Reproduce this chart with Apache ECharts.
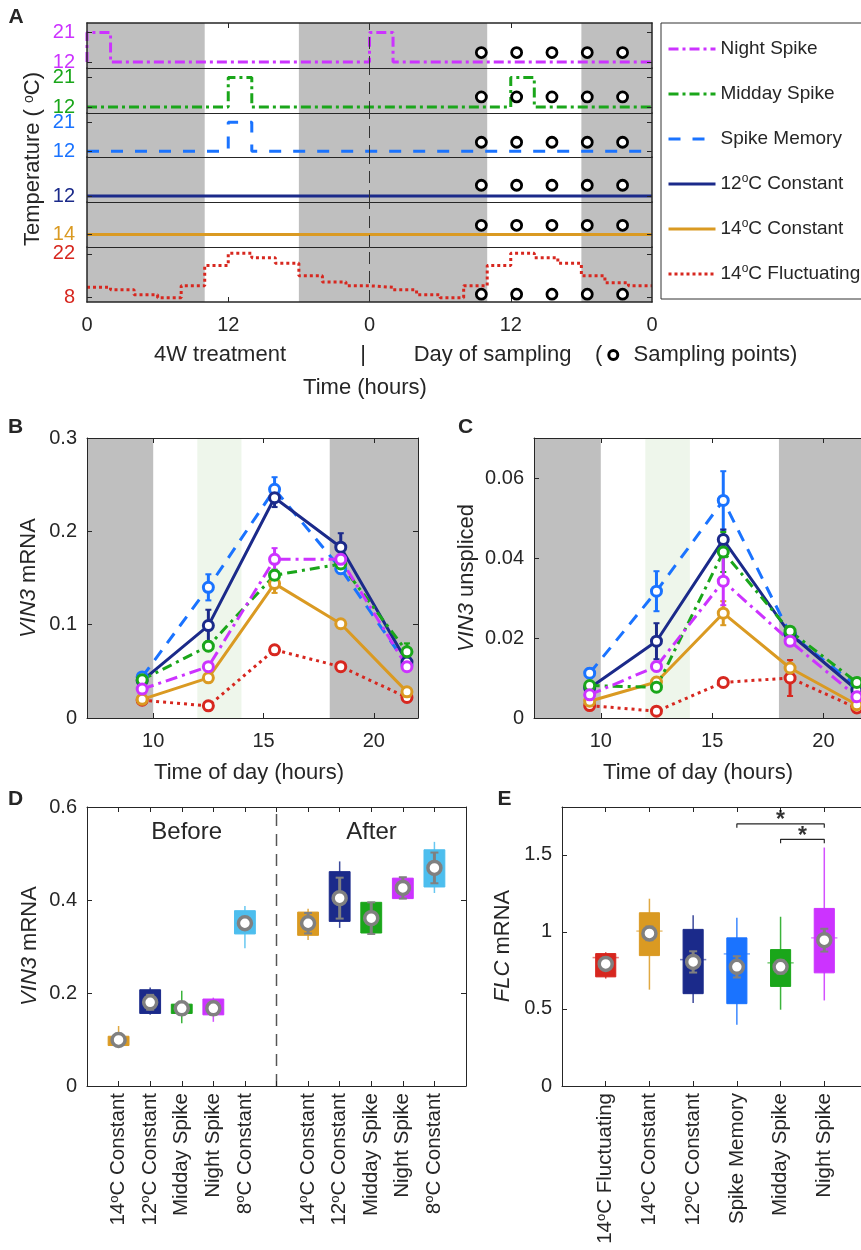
<!DOCTYPE html>
<html><head><meta charset="utf-8">
<script src="https://cdn.jsdelivr.net/npm/echarts@6.0.0/dist/echarts.min.js"></script>
<style>html,body{margin:0;padding:0;background:#fff}#c{width:861px;height:1250px}</style>
</head><body><div id="c"></div>
<script>
// ================= DATA =================
// Panel A: temperature regimes (hours over 2 days, degC)
const seriesNames = ['Night Spike','Midday Spike','Spike Memory','12°C Constant','14°C Constant','14°C Fluctuating'];
const nightSpikeTemp   = [[0,12],[0,21],[2,12],[24,21],[26,12],[48,12]];
const middaySpikeTemp  = [[0,12],[12,21],[14,12],[36,21],[38,12],[48,12]];
const spikeMemoryTemp  = [[0,12],[12,21],[14,12],[48,12]];
const constant12Temp   = [[0,12],[48,12]];
const constant14Temp   = [[0,14],[48,14]];
const fluctuatingHours = [0,2,4,6,8,10,12,14,16,18,20,22,24,26,28,30,32,34,36,38,40,42,44,46,48];
const fluctuatingTemp  = [11.3,10.5,8.9,8.0,11.8,18.3,22.2,20.8,19.0,15.0,13.0,11.8,
                          11.3,10.5,8.9,8.0,11.8,18.3,22.2,20.8,19.0,15.0,12.8,11.8,11.8];
const rowTickLabels    = [[12,21],[12,21],[12,21],[12],[14],[8,22]];
const samplingHoursA   = [33.5,36.5,39.5,42.5,45.5];
const samplingLevelA   = [14.9,15.1,14.8,15.3,16.8,9.1];
const nightBandsA      = [[0,10],[18,34],[42,48]];
const dayBoundaryA     = 24;
const timeTicksA       = [0,12,24,36,48];

// Panels B / C
const timeOfDay  = [9.5,12.5,15.5,18.5,21.5];
const timeTicksB = [10,15,20];
const nightBandsB = [[7,10],[18,22]];
const spikeBandB  = [12,14];
const vin3Ticks   = [0,0.1,0.2,0.3];
const unsTicks    = [0,0.02,0.04,0.06];

const vin3Night = [0.031,0.055,0.170,0.170,0.055];
const vin3Mid   = [0.041,0.077,0.153,0.165,0.071];
const vin3Mem   = [0.044,0.140,0.245,0.160,0.057];
const vin3C12   = [0.040,0.099,0.236,0.183,0.060];
const vin3C14   = [0.020,0.043,0.144,0.101,0.028];
const vin3Fluc  = [0.019,0.013,0.073,0.055,0.022];
const vin3NightErr = [0.003,0.004,0.012,0.005,0.004];
const vin3MidErr   = [0.003,0.005,0.006,0.004,0.009];
const vin3MemErr   = [0.003,0.014,0.013,0.005,0.004];
const vin3C12Err   = [0.003,0.017,0.010,0.015,0.004];
const vin3C14Err   = [0.002,0.003,0.010,0.003,0.003];
const vin3FlucErr  = [0.002,0.002,0.003,0.003,0.003];

const unsNight = [0.0058,0.0129,0.0342,0.0192,0.0053];
const unsMid   = [0.0081,0.0077,0.0415,0.0217,0.0089];
const unsMem   = [0.0112,0.0317,0.0544,0.0210,0.0080];
const unsC12   = [0.0075,0.0192,0.0446,0.0210,0.0070];
const unsC14   = [0.0042,0.0090,0.0262,0.0125,0.0033];
const unsFluc  = [0.0031,0.0017,0.0089,0.0100,0.0025];
const unsNightErr = [0.0008,0.0012,0.0060,0.0012,0.0008];
const unsMidErr   = [0.0008,0.0008,0.0050,0.0010,0.0010];
const unsMemErr   = [0.0012,0.0050,0.0073,0.0012,0.0008];
const unsC12Err   = [0.0008,0.0045,0.0025,0.0010,0.0008];
const unsC14Err   = [0.0006,0.0010,0.0030,0.0010,0.0006];
const unsFlucErr  = [0.0006,0.0005,0.0008,0.0045,0.0006];

// Panel D: VIN3 before / after
const dNames = ['14°C Constant','12°C Constant','Midday Spike','Night Spike','8°C Constant',
                '14°C Constant','12°C Constant','Midday Spike','Night Spike','8°C Constant'];
const dPos   = [1,2,3,4,5,7,8,9,10,11];
const dividerD = 6;
const dQ1   = [0.087,0.156,0.156,0.153,0.327,0.324,0.354,0.329,0.403,0.428];
const dQ3   = [0.107,0.207,0.176,0.187,0.377,0.374,0.461,0.395,0.447,0.508];
const dWLo  = [0.087,0.153,0.135,0.138,0.296,0.314,0.340,0.329,0.403,0.415];
const dWHi  = [0.129,0.212,0.205,0.190,0.387,0.381,0.483,0.395,0.447,0.525];
const dMean = [0.099,0.180,0.167,0.167,0.350,0.350,0.404,0.361,0.426,0.469];
const dErr  = [0.008,0.016,0.013,0.013,0.012,0.022,0.044,0.034,0.023,0.033];
const dTicksY = [0,0.2,0.4,0.6];

// Panel E: FLC
const eNames = ['14°C Fluctuating','14°C Constant','12°C Constant','Spike Memory','Midday Spike','Night Spike'];
const ePos   = [1,2,3,4,5,6];
const eQ1   = [0.708,0.846,0.599,0.534,0.646,0.734];
const eQ3   = [0.859,1.124,1.016,0.961,0.885,1.152];
const eWLo  = [0.697,0.625,0.538,0.397,0.495,0.555];
const eWHi  = [0.868,1.215,1.107,1.092,1.098,1.547];
const eMed  = [0.833,1.005,0.820,0.857,0.799,0.961];
const eMean = [0.792,0.990,0.805,0.773,0.773,0.946];
const eErr  = [0.028,0.044,0.069,0.069,0.043,0.074];
const eTicksY = [0,0.5,1,1.5];
const bracketFrom  = [4,5];
const bracketTo    = [6,6];
const bracketLevel = [1.70,1.60];

// ================= STYLE =================
const FONT = '"Liberation Sans", Arial, Helvetica, sans-serif';
const TXT = '#262626';
const COL = {night:'#CC33FF', mid:'#1AA61A', mem:'#1A73FF', c12:'#1B2A8A', c14:'#DA9A22', fluc:'#D7271F', c8:'#4DBEEE'};
const colorByName = {'Night Spike':COL.night,'Midday Spike':COL.mid,'Spike Memory':COL.mem,
  '12°C Constant':COL.c12,'14°C Constant':COL.c14,'14°C Fluctuating':COL.fluc,'8°C Constant':COL.c8};
const rowColors = seriesNames.map(n => colorByName[n]);
const aDash = [[10,4,3,4],[10,4,3,4],[12,12],'solid','solid',[3,3]];
const richFor = (size) => ({
  s: {fontSize: Math.round(size*0.62), lineHeight: Math.round(size*0.62), verticalAlign:'top', fontFamily:FONT},
  i: {fontStyle:'italic', fontSize:size, fontFamily:FONT}
});
const supFmt = (s) => s.replace('°', '{s|o}');
const numFmt = (v) => String(+Number(v).toFixed(3));

// ================= GRIDS =================
const GB = {containLabel:false, outerBoundsMode:'none'};
const rowTops = [23,68,113,157,202,247], rowHeights = [45,45,44,45,45,55];
const rowYMin = [10.2,10.2,10.2,10.2,10.2,6.6], rowYMax = [23.9,23.9,23.9,23.9,23.9,24.2];
const grids = rowTops.map((t,i)=>Object.assign({left:87, top:t, width:565, height:rowHeights[i]}, GB));
grids.push(Object.assign({left:87,  top:438, width:331, height:280}, GB)); // 6 B
grids.push(Object.assign({left:534, top:438, width:334, height:280}, GB)); // 7 C
grids.push(Object.assign({left:87,  top:807, width:379, height:279}, GB)); // 8 D
grids.push(Object.assign({left:562, top:807, width:306, height:279}, GB)); // 9 E

const LINE = (w) => ({show:true, onZero:false, lineStyle:{color:TXT, width:w}});
const TICK = (vals) => ({show:true, inside:true, length:5, lineStyle:{color:TXT, width:1}, customValues: vals});
const LABEL = (vals, extra) => Object.assign({show:true, customValues: vals, color:TXT, fontSize:20, fontFamily:FONT, formatter: numFmt}, extra||{});
function ax(o){ return Object.assign({type:'value', z:4, splitLine:{show:false}, axisLine:LINE(1), axisTick:{show:false}, axisLabel:{show:false}}, o); }

const xAxes = [];
for (let r=0;r<6;r++) xAxes.push(ax({gridIndex:r, min:0, max:48, position:'bottom',
  axisLine: LINE(r===5?1.5:1),
  axisTick: r===5 ? TICK([12,24,36]) : {show:false},
  axisLabel: r===5 ? LABEL(timeTicksA, {margin:13, formatter: v => String(v % 24)}) : {show:false}}));
xAxes.push(ax({gridIndex:0, min:0, max:48, position:'top', axisLine:LINE(1.5), axisTick:TICK([12,24,36])})); // 6
xAxes.push(ax({gridIndex:6, min:7, max:22, position:'bottom', axisTick:TICK(timeTicksB), axisLabel:LABEL(timeTicksB,{margin:13})})); // 7
xAxes.push(ax({gridIndex:6, min:7, max:22, position:'top', axisTick:TICK(timeTicksB)})); // 8
xAxes.push(ax({gridIndex:7, min:7, max:22, position:'bottom', axisTick:TICK(timeTicksB), axisLabel:LABEL(timeTicksB,{margin:13})})); // 9
xAxes.push(ax({gridIndex:7, min:7, max:22, position:'top', axisTick:TICK(timeTicksB)})); // 10
const dTickPos = dPos.concat([dividerD]);
xAxes.push(ax({gridIndex:8, min:0, max:12, position:'bottom', axisTick:TICK(dTickPos),
  axisLabel:LABEL(dPos,{rotate:90, margin:7, fontSize:20.5, lineHeight:22, rich:richFor(20.5),
    formatter: v => supFmt(dNames[dPos.indexOf(v)])})})); // 11
xAxes.push(ax({gridIndex:8, min:0, max:12, position:'top', axisTick:TICK(dTickPos)})); // 12
xAxes.push(ax({gridIndex:9, min:0, max:7, position:'bottom', axisTick:TICK(ePos),
  axisLabel:LABEL(ePos,{rotate:90, margin:7, fontSize:20.5, lineHeight:22, rich:richFor(20.5),
    formatter: v => supFmt(eNames[ePos.indexOf(v)])})})); // 13
xAxes.push(ax({gridIndex:9, min:0, max:7, position:'top', axisTick:TICK(ePos)})); // 14

const yAxes = [];
for (let r=0;r<6;r++) yAxes.push(ax({gridIndex:r, min:rowYMin[r], max:rowYMax[r], position:'left', axisLine:LINE(1.5),
  axisTick:TICK(rowTickLabels[r]), axisLabel:LABEL(rowTickLabels[r], {color:rowColors[r], fontSize:20, margin:12})}));
for (let r=0;r<6;r++) yAxes.push(ax({gridIndex:r, min:rowYMin[r], max:rowYMax[r], position:'right', axisLine:LINE(1.5),
  axisTick:TICK(rowTickLabels[r])}));
yAxes.push(ax({gridIndex:6, min:0, max:0.3, position:'left', axisTick:TICK(vin3Ticks), axisLabel:LABEL(vin3Ticks,{margin:10})})); // 12
yAxes.push(ax({gridIndex:6, min:0, max:0.3, position:'right', axisTick:TICK(vin3Ticks)})); // 13
yAxes.push(ax({gridIndex:7, min:0, max:0.07, position:'left', axisTick:TICK(unsTicks), axisLabel:LABEL(unsTicks,{margin:10})})); // 14
yAxes.push(ax({gridIndex:7, min:0, max:0.07, position:'right', axisTick:TICK(unsTicks)})); // 15
yAxes.push(ax({gridIndex:8, min:0, max:0.6, position:'left', axisTick:TICK(dTicksY), axisLabel:LABEL(dTicksY,{margin:10})})); // 16
yAxes.push(ax({gridIndex:8, min:0, max:0.6, position:'right', axisTick:TICK(dTicksY)})); // 17
yAxes.push(ax({gridIndex:9, min:0, max:1.81, position:'left', axisTick:TICK(eTicksY), axisLabel:LABEL(eTicksY,{margin:10})})); // 18
yAxes.push(ax({gridIndex:9, min:0, max:1.81, position:'right', axisTick:TICK(eTicksY)})); // 19

// ================= SERIES =================
const series = [];
const rowData = [nightSpikeTemp, middaySpikeTemp, spikeMemoryTemp, constant12Temp, constant14Temp,
                 fluctuatingHours.map((h,i)=>[h, fluctuatingTemp[i]])];
for (let r=0;r<6;r++) {
  series.push({type:'line', name:seriesNames[r], xAxisIndex:r, yAxisIndex:r, data:rowData[r], step:'end',
    symbol:'none', showSymbol:false, silent:true, z:2,
    lineStyle:{color:rowColors[r], width:3, type:aDash[r]}, itemStyle:{color:rowColors[r]},
    markArea:{silent:true, itemStyle:{color:'#BFBFBF'}, data: nightBandsA.map(b=>[{xAxis:b[0]},{xAxis:b[1]}])},
    markLine:{silent:true, symbol:['none','none'], label:{show:false}, lineStyle:{color:'#333', width:1, type:[12,7]},
      data:[{xAxis:dayBoundaryA}]}
  });
}
for (let r=0;r<6;r++) {
  series.push({type:'scatter', xAxisIndex:r, yAxisIndex:r, silent:true, z:5,
    data: samplingHoursA.map(h=>[h, samplingLevelA[r]]), symbol:'circle', symbolSize:10,
    itemStyle:{color:'#fff', borderColor:'#000', borderWidth:2.8, opacity:1}});
}

const bcDefs = [
  {name:'14°C Fluctuating', dash:[3,4],       b:vin3Fluc,  be:vin3FlucErr,  c:unsFluc,  ce:unsFlucErr},
  {name:'14°C Constant',    dash:'solid',     b:vin3C14,   be:vin3C14Err,   c:unsC14,   ce:unsC14Err},
  {name:'Spike Memory',     dash:[12,9],      b:vin3Mem,   be:vin3MemErr,   c:unsMem,   ce:unsMemErr},
  {name:'12°C Constant',    dash:'solid',     b:vin3C12,   be:vin3C12Err,   c:unsC12,   ce:unsC12Err},
  {name:'Midday Spike',     dash:[10,5,3,5],  b:vin3Mid,   be:vin3MidErr,   c:unsMid,   ce:unsMidErr},
  {name:'Night Spike',      dash:[12,5,3,5],  b:vin3Night, be:vin3NightErr, c:unsNight, ce:unsNightErr}
];
function errSeries(xi, yi, xs, ys, es, color){
  return {type:'custom', xAxisIndex:xi, yAxisIndex:yi, silent:true, z:3, encode:{x:0,y:1},
    data: xs.map((x,i)=>[x, ys[i], es[i]]),
    renderItem:(p, api)=>{
      const x=api.value(0), y=api.value(1), e=api.value(2);
      const a=api.coord([x,y+e]), b=api.coord([x,y-e]); const cw=3;
      return {type:'group', children:[
        {type:'line', shape:{x1:a[0],y1:a[1],x2:b[0],y2:b[1]}, style:{stroke:color, lineWidth:3}},
        {type:'line', shape:{x1:a[0]-cw,y1:a[1],x2:a[0]+cw,y2:a[1]}, style:{stroke:color, lineWidth:2}},
        {type:'line', shape:{x1:b[0]-cw,y1:b[1],x2:b[0]+cw,y2:b[1]}, style:{stroke:color, lineWidth:2}}
      ]};
    }};
}
function addLinePanel(xi, yi, key, errKey){
  bcDefs.forEach((s,k)=>{
    const color = colorByName[s.name];
    series.push(errSeries(xi, yi, timeOfDay, s[key], s[errKey], color));
    const ser = {type:'line', name:s.name, xAxisIndex:xi, yAxisIndex:yi, silent:true, z:4,
      data: timeOfDay.map((t,i)=>[t, s[key][i]]), symbol:'circle', symbolSize:10, showSymbol:true,
      lineStyle:{color, width:3, type:s.dash}, itemStyle:{color:'#fff', borderColor:color, borderWidth:3}};
    if (k===0) {
      ser.markArea = {silent:true, itemStyle:{color:'#BFBFBF'},
        data: nightBandsB.map(b=>[{xAxis:b[0]},{xAxis:b[1]}])
          .concat([[{xAxis:spikeBandB[0], itemStyle:{color:'#EEF6EB'}},{xAxis:spikeBandB[1]}]])};
    }
    series.push(ser);
  });
}
addLinePanel(7, 12, 'b', 'be');
addLinePanel(9, 14, 'c', 'ce');

function boxSeries(xi, yi, pos, names, q1, q3, wlo, whi, med, mean, err, bw, mw){
  return {type:'custom', xAxisIndex:xi, yAxisIndex:yi, silent:true, z:4, encode:{x:0,y:2},
    data: pos.map((p,i)=>[p, i, q1[i]]),
    renderItem:(params, api)=>{
      const x = api.value(0), i = api.value(1);
      const col = colorByName[names[i]];
      const L = api.coord([x-bw/2, q3[i]]), R = api.coord([x+bw/2, q1[i]]);
      const wt = api.coord([x, whi[i]]), wb = api.coord([x, wlo[i]]);
      const m = api.coord([x, mean[i]]);
      const et = api.coord([x, mean[i]+err[i]]), eb = api.coord([x, mean[i]-err[i]]);
      const ch = [
        {type:'line', shape:{x1:wt[0],y1:wt[1],x2:wb[0],y2:wb[1]}, style:{stroke:col, lineWidth:1.5, opacity:0.85}},
        {type:'rect', shape:{x:L[0], y:L[1], width:R[0]-L[0], height:R[1]-L[1]}, style:{fill:col, stroke:col, lineWidth:1}}
      ];
      if (med) {
        const ml = api.coord([x-mw/2, med[i]]), mr = api.coord([x+mw/2, med[i]]);
        ch.push({type:'line', shape:{x1:ml[0],y1:ml[1],x2:mr[0],y2:mr[1]}, style:{stroke:col, lineWidth:1.5, opacity:0.6}});
      }
      const cw = 4;
      ch.push({type:'line', shape:{x1:et[0],y1:et[1],x2:eb[0],y2:eb[1]}, style:{stroke:'#808080', lineWidth:3}});
      ch.push({type:'line', shape:{x1:et[0]-cw,y1:et[1],x2:et[0]+cw,y2:et[1]}, style:{stroke:'#808080', lineWidth:2}});
      ch.push({type:'line', shape:{x1:eb[0]-cw,y1:eb[1],x2:eb[0]+cw,y2:eb[1]}, style:{stroke:'#808080', lineWidth:2}});
      ch.push({type:'circle', shape:{cx:m[0], cy:m[1], r:6.5}, style:{fill:'#fff', stroke:'#808080', lineWidth:3.5}});
      return {type:'group', children:ch};
    }};
}
series.push(boxSeries(11, 16, dPos, dNames, dQ1, dQ3, dWLo, dWHi, null, dMean, dErr, 0.66, 0.8));
series.push({type:'line', xAxisIndex:11, yAxisIndex:16, silent:true, z:3, symbol:'none',
  data:[[dividerD,0],[dividerD,0.6]], lineStyle:{color:'#555', width:1.5, type:[12,8]}});

series.push(boxSeries(13, 18, ePos, eNames, eQ1, eQ3, eWLo, eWHi, eMed, eMean, eErr, 0.46, 0.6));
const drop = 0.025;
bracketFrom.forEach((f,i)=>{
  const t = bracketTo[i], lv = bracketLevel[i];
  series.push({type:'line', xAxisIndex:13, yAxisIndex:18, silent:true, z:5, symbol:'none',
    data:[[f,lv-drop],[f,lv],[t,lv],[t,lv-drop]], lineStyle:{color:TXT, width:1.2}});
});
series.push({type:'scatter', xAxisIndex:13, yAxisIndex:18, silent:true, z:5, symbolSize:1,
  itemStyle:{color:'rgba(0,0,0,0)'},
  data: bracketFrom.map((f,i)=>[(f+bracketTo[i])/2, bracketLevel[i]]),
  label:{show:true, position:'inside', offset:[0,-3], formatter:'*', fontSize:23, fontWeight:'bold', color:'#000', fontFamily:FONT}});

// ================= TEXT =================
const T = (text, x, y, o={}) => ({type:'text', x, y, rotation:o.rot||0, silent:true, z:10,
  style:{text, fontFamily:FONT, fontSize:o.size||22, fontWeight:o.bold?'bold':'normal', fill:TXT,
    align:o.align||'center', verticalAlign:'middle', textAlign:o.align||'center', textVerticalAlign:'middle',
    rich:o.rich}});
const R90 = Math.PI/2;
const graphics = [
  T('A', 16, 17, {size:21, bold:true}),
  T('B', 15.5, 427.5, {size:21, bold:true}),
  T('C', 465.5, 427.5, {size:21, bold:true}),
  T('D', 15.5, 799.5, {size:21, bold:true}),
  T('E', 504.5, 799.5, {size:21, bold:true}),
  T('Temperature ( {s|o}C)', 32.7, 159, {rot:R90, rich:richFor(22)}),
  T('4W treatment', 220, 355),
  T('|', 363, 355),
  T('Day of sampling', 492.5, 355),
  T('(', 595, 355, {align:'left'}),
  {type:'circle', silent:true, z:10, shape:{cx:613.3, cy:355, r:4.5}, style:{fill:'#fff', stroke:'#000', lineWidth:3}},
  T('Sampling points)', 633.5, 355, {align:'left'}),
  T('Time (hours)', 365, 388),
  T('{i|VIN3} mRNA', 28.5, 578, {rot:R90, rich:richFor(22)}),
  T('Time of day (hours)', 249, 773),
  T('{i|VIN3} unspliced', 466.5, 578, {rot:R90, rich:richFor(22)}),
  T('Time of day (hours)', 698, 773),
  T('{i|VIN3} mRNA', 29.5, 946, {rot:R90, rich:richFor(22)}),
  T('Before', 186.7, 832.7, {size:24}),
  T('After', 371.5, 832.7, {size:24}),
  T('{i|FLC} mRNA', 502.5, 946, {rot:R90, rich:richFor(22)})
];

const option = {
  animation:false,
  backgroundColor:'#fff',
  textStyle:{fontFamily:FONT, color:TXT},
  grid: grids, xAxis: xAxes, yAxis: yAxes,
  legend: {show:true, orient:'vertical', left:661, top:23, data:seriesNames, selectedMode:false,
    padding:[15,40,14,6], itemGap:23, itemWidth:47, itemHeight:14,
    borderColor:'#333', borderWidth:1, backgroundColor:'#fff',
    itemStyle:{opacity:0, color:'rgba(0,0,0,0)', borderWidth:0},
    lineStyle:{width:3},
    formatter: n => supFmt(n),
    textStyle:{fontFamily:FONT, fontSize:19, color:TXT, lineHeight:22, rich:richFor(19)}},
  series: series,
  graphic: {elements: graphics}
};
const chart = echarts.init(document.getElementById('c'), null, {renderer:'canvas'});
chart.setOption(option);
</script></body></html>
